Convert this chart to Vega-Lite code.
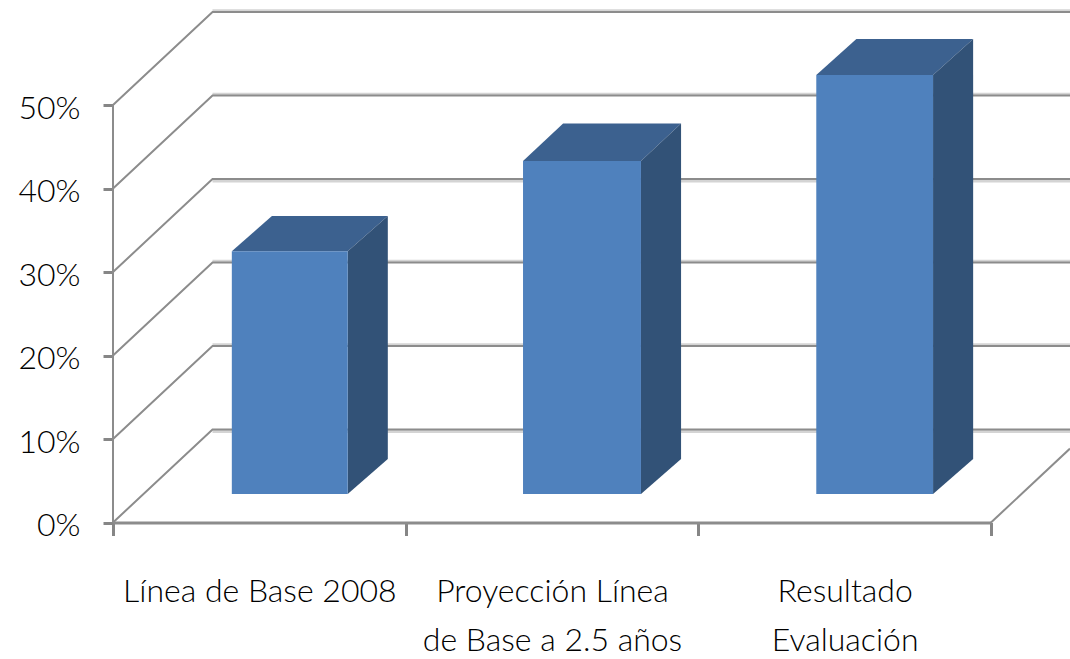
{
"$schema":"https://vega.github.io/schema/vega-lite/v6.json",
"width":878,"height":510.5,
"autosize":{"type":"none"},
"padding":{"left":113,"top":12,"right":79,"bottom":136.5},
"background":"#ffffff",
"config":{"view":{"stroke":null},"axis":{"grid":false,"labelFont":"Lato","labelColor":"#000000","labelFontSize":32,"tickColor":"#868686","tickWidth":3}},
"datasets":{
"walls":[
{"line":"g0","x":0,"y":0},{"line":"g0","x":0.34,"y":11.14},{"line":"g0","x":3.27,"y":11.14},
{"line":"g10","x":0,"y":10},{"line":"g10","x":0.34,"y":21.14},{"line":"g10","x":3.27,"y":21.14},
{"line":"g20","x":0,"y":20},{"line":"g20","x":0.34,"y":31.14},{"line":"g20","x":3.27,"y":31.14},
{"line":"g30","x":0,"y":30},{"line":"g30","x":0.34,"y":41.14},{"line":"g30","x":3.27,"y":41.14},
{"line":"g40","x":0,"y":40},{"line":"g40","x":0.34,"y":51.14},{"line":"g40","x":3.27,"y":51.14},
{"line":"g50","x":0,"y":50},{"line":"g50","x":0.34,"y":61.14},{"line":"g50","x":3.27,"y":61.14},
{"line":"floor","x":3,"y":0},{"line":"floor","x":3.27,"y":8.85},
{"line":"yaxis","x":0,"y":0},{"line":"yaxis","x":0,"y":50}
],
"halo":[
{"line":"h0","x":0.34,"y":10.9},{"line":"h0","x":3.27,"y":10.9},
{"line":"h10","x":0.34,"y":21.3},{"line":"h10","x":3.27,"y":21.3},
{"line":"h20","x":0.34,"y":31.3},{"line":"h20","x":3.27,"y":31.3},
{"line":"h30","x":0.34,"y":40.9},{"line":"h30","x":3.27,"y":40.9},
{"line":"h40","x":0.34,"y":51.3},{"line":"h40","x":3.27,"y":51.3},
{"line":"h50","x":0.34,"y":61.3},{"line":"h50","x":3.27,"y":61.3}
],
"faces":[
{"bar":"Línea de Base 2008","face":"top","x":0.406,"y":32.5,"y2":32.5},
{"bar":"Línea de Base 2008","face":"top","x":0.543,"y":36.7,"y2":32.5},
{"bar":"Línea de Base 2008","face":"top","x":0.802,"y":36.7,"y2":32.5},
{"bar":"Línea de Base 2008","face":"top","x":0.939,"y":36.7,"y2":36.7},
{"bar":"Línea de Base 2008","face":"side","x":0.802,"y":32.5,"y2":3.41},
{"bar":"Línea de Base 2008","face":"side","x":0.939,"y":36.7,"y2":7.6},
{"bar":"Proyección Línea de Base a 2.5 años","face":"top","x":1.401,"y":43.3,"y2":43.3},
{"bar":"Proyección Línea de Base a 2.5 años","face":"top","x":1.538,"y":47.8,"y2":43.3},
{"bar":"Proyección Línea de Base a 2.5 años","face":"top","x":1.804,"y":47.8,"y2":43.3},
{"bar":"Proyección Línea de Base a 2.5 años","face":"top","x":1.941,"y":47.8,"y2":47.8},
{"bar":"Proyección Línea de Base a 2.5 años","face":"side","x":1.804,"y":43.3,"y2":3.41},
{"bar":"Proyección Línea de Base a 2.5 años","face":"side","x":1.941,"y":47.8,"y2":7.6},
{"bar":"Resultado Evaluación","face":"top","x":2.403,"y":53.6,"y2":53.6},
{"bar":"Resultado Evaluación","face":"top","x":2.54,"y":57.9,"y2":53.6},
{"bar":"Resultado Evaluación","face":"top","x":2.802,"y":57.9,"y2":53.6},
{"bar":"Resultado Evaluación","face":"top","x":2.939,"y":57.9,"y2":57.9},
{"bar":"Resultado Evaluación","face":"side","x":2.802,"y":53.6,"y2":3.41},
{"bar":"Resultado Evaluación","face":"side","x":2.939,"y":57.9,"y2":7.6}
],
"bars":[
{"bar":"Línea de Base 2008","x0":0.406,"x1":0.802,"base":3.41,"value":32.5},
{"bar":"Proyección Línea de Base a 2.5 años","x0":1.401,"x1":1.804,"base":3.41,"value":43.3},
{"bar":"Resultado Evaluación","x0":2.403,"x1":2.802,"base":3.41,"value":53.6}
]
},
"resolve":{"axis":{"x":"independent"}},
"layer":[
{"data":{"name":"halo"},
 "mark":{"type":"line","stroke":"#d4d4d4","strokeWidth":3,"clip":false},
 "encoding":{
  "x":{"field":"x","type":"quantitative","scale":{"domain":[0,3],"nice":false,"zero":false,"clamp":false},
   "axis":{"orient":"bottom","values":[0,1,2,3],"labels":false,"tickSize":13,"domainColor":"#8c8c8c","domainWidth":3,"title":null}},
  "y":{"field":"y","type":"quantitative","scale":{"domain":[0,61.14],"nice":false,"zero":false},
   "axis":{"values":[0,10,20,30,40,50],"domain":false,"tickSize":10,"labelExpr":"datum.value+'%'","labelFontWeight":300,"labelPadding":23,"labelBaseline":"middle","labelOffset":3,"title":null}},
  "detail":{"field":"line"}}},
{"data":{"name":"walls"},
 "mark":{"type":"line","stroke":"#8c8c8c","strokeWidth":2,"clip":false},
 "encoding":{
  "x":{"field":"x","type":"quantitative",
   "axis":{"orient":"bottom","values":[0.5,1.5,2.5],"ticks":false,"domain":false,"title":null,"labelFontSize":32,"labelFontWeight":300,"labelPadding":54,"labelLineHeight":49,"labelBaseline":"top","labelLimit":400,"labelOverlap":false,"labelFlush":false,"labelExpr":"datum.value==0.5?['Línea de Base 2008']:datum.value==1.5?['Proyección Línea','de Base a 2.5 años']:['Resultado','Evaluación']"}},
  "y":{"field":"y","type":"quantitative"},
  "detail":{"field":"line"}}},
{"data":{"name":"faces"},
 "mark":{"type":"area","clip":false},
 "encoding":{
  "x":{"field":"x","type":"quantitative","axis":null},
  "y":{"field":"y","type":"quantitative"},
  "y2":{"field":"y2"},
  "detail":{"field":"bar"},
  "color":{"field":"face","type":"nominal","legend":null,"scale":{"domain":["top","side"],"range":["#3C618F","#325277"]}}}},
{"data":{"name":"bars"},
 "mark":{"type":"rect","fill":"#4F81BD","clip":false},
 "encoding":{
  "x":{"field":"x0","type":"quantitative","axis":null},
  "x2":{"field":"x1"},
  "y":{"field":"value","type":"quantitative"},
  "y2":{"field":"base"}}}
]
}
